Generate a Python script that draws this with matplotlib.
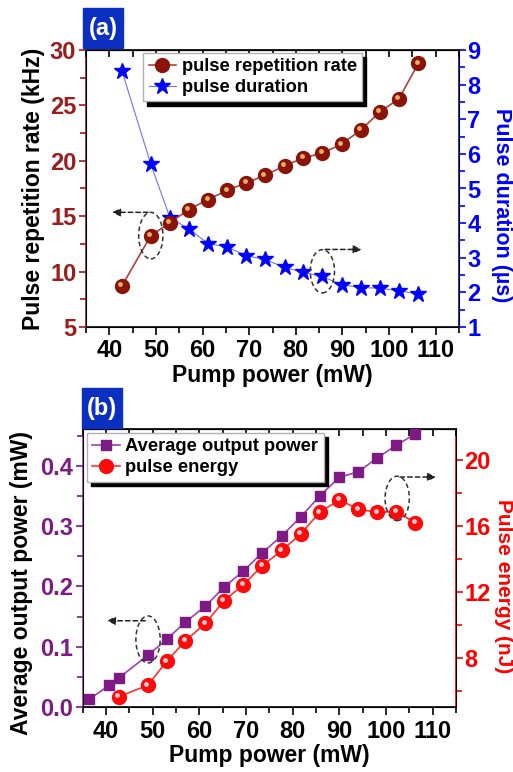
import numpy as np
import matplotlib
matplotlib.use("Agg")
from matplotlib import pyplot as plt
from matplotlib.ticker import MultipleLocator
from matplotlib.patches import Ellipse, Rectangle
from matplotlib import transforms

plt.rcParams['font.family'] = ['Liberation Sans', 'DejaVu Sans']
plt.rcParams['font.weight'] = 'bold'

# panel (a)
pump_a = [42.7, 48.9, 53.0, 57.0, 61.2, 65.3, 69.4, 73.4,
          77.6, 81.6, 85.7, 89.8, 94.0, 98.0, 102.1, 106.3]
rep_rate = [8.7, 13.25, 14.4, 15.6, 16.5, 17.35, 18.0, 18.7,
            19.55, 20.25, 20.7, 21.5, 22.8, 24.4, 25.6, 28.8]
duration = [8.4, 5.7, 4.16, 3.84, 3.41, 3.31, 3.06, 2.95,
            2.72, 2.58, 2.46, 2.22, 2.14, 2.12, 2.04, 1.96]

# panel (b)
pump_b = [36.4, 40.7, 42.7, 49.0, 53.0, 57.0, 61.3, 65.3, 69.4,
          73.5, 77.7, 81.7, 85.8, 90.0, 94.1, 98.1, 102.2, 106.3]
avg_power = [0.013, 0.036, 0.048, 0.086, 0.112, 0.141, 0.167, 0.199, 0.225,
             0.256, 0.284, 0.315, 0.350, 0.381, 0.390, 0.413, 0.434, 0.453]
pump_e = pump_b[2:]
energy = [5.62, 6.33, 7.78, 9.02, 10.09, 11.46, 12.43, 13.59,
          14.52, 15.52, 16.84, 17.59, 17.02, 16.84, 16.88, 16.19]

DARKRED = '#9a1c1c'
BLUE = '#0000ff'
PURPLE = '#7d1a85'
RED = '#ff0000'
TICK_FS = 17
LABEL_FS = 16.5
LEG_FS = 13.2

W, H = 513, 772
fig = plt.figure(figsize=(W / 100, H / 100), dpi=100)


def px_axes(l, t, r, b):
    return fig.add_axes([l / W, 1 - b / H, (r - l) / W, (b - t) / H])


def style_x(ax):
    ax.set_xlim(35, 115)
    ax.xaxis.set_major_locator(MultipleLocator(10))
    ax.xaxis.set_minor_locator(MultipleLocator(5))
    ax.tick_params(axis='x', which='both', direction='out', top=False,
                   labelsize=TICK_FS, width=1.2, pad=3)
    ax.tick_params(axis='x', which='major', length=6)
    ax.tick_params(axis='x', which='minor', length=4)
    sec = ax.secondary_xaxis('top')
    sec.xaxis.set_major_locator(MultipleLocator(5))
    sec.tick_params(direction='in', length=5, width=1.2, labeltop=False)
    ax.set_xlabel('Pump power (mW)', fontsize=LABEL_FS, fontweight='bold', labelpad=1)


def style_y(ax, color, major, minor, pad=2):
    ax.yaxis.set_major_locator(MultipleLocator(major))
    ax.yaxis.set_minor_locator(MultipleLocator(minor))
    ax.tick_params(axis='y', which='both', direction='out', colors=color,
                   labelsize=TICK_FS, width=1.2, pad=pad)
    ax.tick_params(axis='y', which='minor', length=4)
    ax.tick_params(axis='y', which='major', length=5)


def place_ylabel(ax, text, color, x, y, rot, fs=LABEL_FS):
    ax.set_ylabel(text, fontsize=fs, fontweight='bold', color=color,
                  rotation=rot)
    ax.yaxis.set_label_coords(x, y)
    ax.yaxis.label.set_va('center')
    ax.yaxis.label.set_ha('center')
    ax.yaxis.label.set_rotation_mode('anchor')


def ball(ax, x, y, face, hilite, ms):
    ax.plot(x, y, 'o', ms=ms, mfc=face, mec=face, zorder=4)
    off = transforms.ScaledTranslation(-1.6 / 100, 1.6 / 100, fig.dpi_scale_trans)
    ax.plot(x, y, 'o', ms=ms * 0.35, mfc=hilite, mec='none', alpha=0.9,
            transform=ax.transData + off, zorder=5)


def panel_tag(text, l, t):
    fig.add_artist(Rectangle((l / W, 1 - (t + 40) / H), 40 / W, 40 / H,
                             transform=fig.transFigure, color='#0b2fc0', zorder=10))
    fig.text((l + 20) / W, 1 - (t + 20) / H, text, color='white', fontsize=17,
             fontweight='bold', ha='center', va='center', zorder=11)


def dashed_ellipse(ax, xy, w, h):
    ax.add_patch(Ellipse(xy, w, h, fill=False, ls=(0, (3, 2)), lw=1.1,
                         ec='#333333', zorder=6))


def dashed_arrow(ax, start, end):
    ax.annotate('', xy=end, xytext=start,
                arrowprops=dict(arrowstyle='-|>', ls=(0, (3, 2)), lw=1.1,
                                color='#222222', mutation_scale=12), zorder=6)


# ---------------- panel (a)
ax1 = px_axes(86, 50, 459, 327)
ax2 = ax1.twinx()
ax1.plot(pump_a, rep_rate, '-', color='#a8443c', lw=1.2, zorder=3)
ball(ax1, pump_a, rep_rate, '#8b1408', '#f0c070', 10)
ax2.plot(pump_a, duration, '-', color='#7070ff', lw=0.8, zorder=3)
ax2.plot(pump_a, duration, '*', ms=12, mfc=BLUE, mec=BLUE, zorder=4)

ax1.set_ylim(5, 30)
ax2.set_ylim(1, 9)
style_x(ax1)
style_y(ax1, DARKRED, 5, 2.5)
style_y(ax2, BLUE, 1, 0.5, pad=1)
ax2.spines['left'].set_color(DARKRED)
ax2.spines['right'].set_color(BLUE)
for s in ('left', 'right', 'top', 'bottom'):
    ax2.spines[s].set_linewidth(1.2)
place_ylabel(ax1, 'Pulse repetition rate (kHz)', 'black', -0.142, 0.5, 90)
place_ylabel(ax2, 'Pulse duration (µs)', BLUE, 1.114, 0.44, 270, 15.5)

lh1 = plt.Line2D([], [], color='#a8443c', marker='o', ms=10, mfc='#8b1408',
                 mec='#8b1408', lw=1.2)
lh2 = plt.Line2D([], [], color='#7070ff', marker='*', ms=12, mfc=BLUE, mec=BLUE, lw=0.8)
ax1.legend([lh1, lh2], ['pulse repetition rate', 'pulse duration'],
           loc='upper left', bbox_to_anchor=(0.153, 0.99), borderaxespad=0,
           fontsize=LEG_FS, handlelength=1.5, handletextpad=0.3,
           labelspacing=0.2, fancybox=False, edgecolor='#b0b0b0',
           framealpha=1, borderpad=0.3,
           shadow={'color': 'black', 'alpha': 1, 'ox': 3, 'oy': -3})
ax1.set_zorder(ax2.get_zorder() + 1)
ax1.patch.set_visible(False)

dashed_ellipse(ax1, (pump_a[1], rep_rate[1]), 5.2, 4.2)
dashed_arrow(ax1, (pump_a[1], rep_rate[1] + 2.1), (40, rep_rate[1] + 2.1))
dashed_ellipse(ax2, (pump_a[10], duration[10] + 0.15), 5.2, 1.25)
dashed_arrow(ax2, (pump_a[10], duration[10] + 0.78), (94.7, duration[10] + 0.78))
panel_tag('(a)', 83, 8)

# ---------------- panel (b)
bx1 = px_axes(82.7, 429, 456, 707)
bx2 = bx1.twinx()
bx1.plot(pump_b, avg_power, '-s', color='#a040b0', lw=1.2, ms=7,
         mfc=PURPLE, mec=PURPLE, zorder=3)
bx2.plot(pump_e, energy, '-', color='#ff3030', lw=1.2, zorder=3)
ball(bx2, pump_e, energy, '#ff0a0a', '#ffe0e0', 10)

bx1.set_ylim(0, 0.461)
bx2.set_ylim(5, 21.9)
style_x(bx1)
style_y(bx1, PURPLE, 0.1, 0.05)
style_y(bx2, RED, 4, 2, pad=1)
bx2.spines['left'].set_color('#a040b0')
bx2.spines['right'].set_color(RED)
for s in ('left', 'right', 'top', 'bottom'):
    bx2.spines[s].set_linewidth(1.2)
place_ylabel(bx1, 'Average output power (mW)', 'black', -0.163, 0.446, 90)
place_ylabel(bx2, 'Pulse energy (nJ)', RED, 1.126, 0.435, 270, 15)

mh1 = plt.Line2D([], [], color='#a040b0', marker='s', ms=7, mfc=PURPLE,
                 mec=PURPLE, lw=1.2)
mh2 = plt.Line2D([], [], color='#ff3030', marker='o', ms=10, mfc='#ff0a0a',
                 mec='#ff0a0a', lw=1.2)
bx1.legend([mh1, mh2], ['Average output power', 'pulse energy'],
           loc='upper left', bbox_to_anchor=(0.0115, 0.986), borderaxespad=0,
           fontsize=LEG_FS, handlelength=1.5, handletextpad=0.3,
           labelspacing=0.2, fancybox=False, edgecolor='#b0b0b0',
           framealpha=1, borderpad=0.3,
           shadow={'color': 'black', 'alpha': 1, 'ox': 3, 'oy': -3})
bx1.set_zorder(bx2.get_zorder() + 1)
bx1.patch.set_visible(False)

dashed_ellipse(bx1, (pump_b[3], avg_power[3] + 0.026), 5.2, 0.078)
dashed_arrow(bx1, (pump_b[3], avg_power[3] + 0.057), (39.6, avg_power[3] + 0.057))
dashed_ellipse(bx2, (pump_e[14] + 0.2, energy[14] + 0.8), 5.2, 2.7)
dashed_arrow(bx2, (pump_e[14] + 0.2, energy[14] + 2.1), (111.3, energy[14] + 2.1))
panel_tag('(b)', 82, 388)

fig.savefig('out.png', dpi=100)
